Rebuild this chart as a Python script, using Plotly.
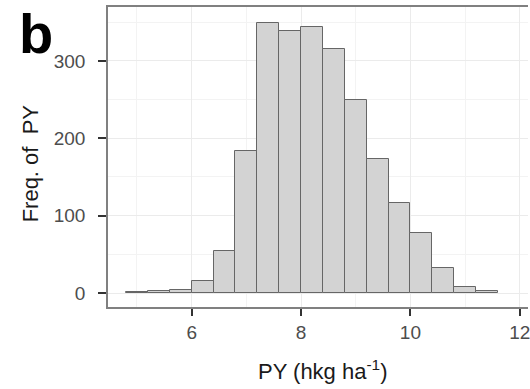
import plotly.graph_objects as go

# ---- data ----
bin_width = 0.4
bin_starts = [4.8, 5.2, 5.6, 6.0, 6.4, 6.8, 7.2, 7.6, 8.0, 8.4, 8.8, 9.2, 9.6, 10.0, 10.4, 10.8, 11.2]
counts = [1, 2, 4, 15, 54, 184, 349, 339, 344, 316, 249, 173, 117, 78, 32, 8, 2]
x_ticks = [6, 8, 10, 12]
y_ticks = [0, 100, 200, 300]

W, H = 530, 389
L, R, T, B = 108, 0, 7, 82
PW, PH = W - L - R, H - T - B


def px(xp):
    return (xp - L) / PW


def py(yp):
    return (H - B - yp) / PH


centers = [s + bin_width / 2 for s in bin_starts]

fig = go.Figure()
fig.add_trace(go.Bar(
    x=centers, y=counts, width=[bin_width] * len(counts),
    marker=dict(color="#D3D3D3", line=dict(color="#666666", width=1)),
    showlegend=False, hoverinfo="x+y",
))

font_family = "Liberation Sans, Arial, sans-serif"

fig.update_layout(
    width=W, height=H,
    margin=dict(l=L, r=R, t=T, b=B, pad=0),
    plot_bgcolor="white", paper_bgcolor="white",
    bargap=0,
    font=dict(family=font_family, color="#4D4D4D"),
    xaxis=dict(
        range=[4.47, 12.15], tickvals=x_ticks, ticktext=[str(v) for v in x_ticks],
        showgrid=True, gridcolor="#EBEBEB", gridwidth=1.2,
        minor=dict(dtick=1, tick0=0, showgrid=True, gridcolor="#F3F3F3", gridwidth=0.6),
        showline=True, linecolor="#808080", linewidth=1.5, mirror=True,
        ticks="outside", ticklen=7, tickwidth=2, tickcolor="#333333",
        tickfont=dict(size=19, color="#4D4D4D"),
        ticklabeloverflow="allow",
        zeroline=False, fixedrange=True,
    ),
    yaxis=dict(
        range=[-18.1, 369.8], tickvals=y_ticks, ticktext=[str(v) for v in y_ticks],
        showgrid=True, gridcolor="#EBEBEB", gridwidth=1.2,
        minor=dict(dtick=50, tick0=0, showgrid=True, gridcolor="#F3F3F3", gridwidth=0.6),
        showline=True, linecolor="#808080", linewidth=1.5, mirror=False,
        ticks="outside", ticklen=8, tickwidth=2, tickcolor="#333333",
        tickfont=dict(size=19, color="#4D4D4D"),
        ticklabelstandoff=9,
        zeroline=False, fixedrange=True,
    ),
)

fig.add_annotation(
    text="PY (hkg ha<sup>-1</sup>)", xref="paper", yref="paper",
    x=px(324), y=py(370), xanchor="center", yanchor="middle",
    showarrow=False, font=dict(size=22, color="#1a1a1a", family=font_family),
)
fig.add_annotation(
    text="Freq. of\u00a0\u00a0PY", xref="paper", yref="paper",
    x=px(30), y=py(163), xanchor="center", yanchor="middle", textangle=-90,
    showarrow=False, font=dict(size=22, color="#1a1a1a", family=font_family),
)
fig.add_annotation(
    text="<b>b</b>", xref="paper", yref="paper",
    x=px(17), y=py(33), xanchor="left", yanchor="middle",
    showarrow=False, font=dict(size=56, color="black", family=font_family),
)

fig.write_html(
    "out.html",
    config={"displayModeBar": False},
    post_script="document.body.style.margin='0';document.body.style.overflow='hidden';",
)
